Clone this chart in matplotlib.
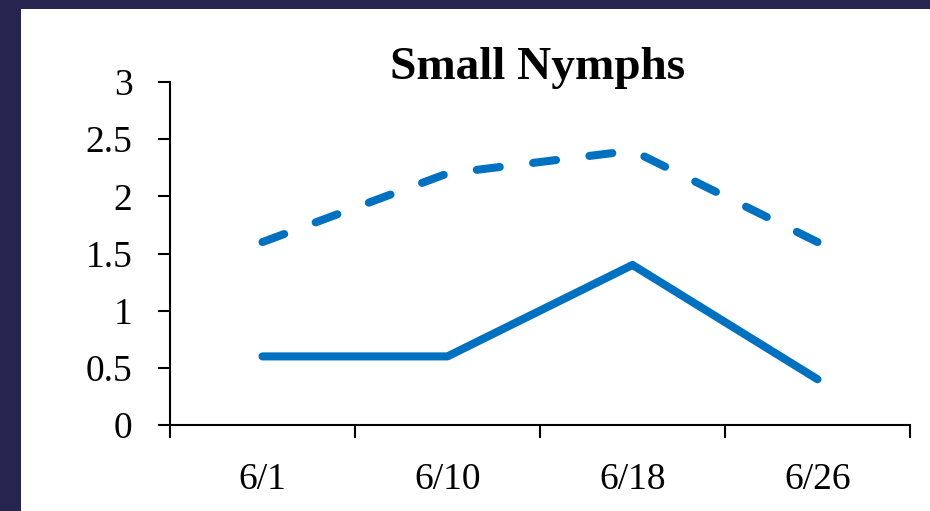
import matplotlib.pyplot as plt
from matplotlib.patches import Rectangle
from matplotlib.ticker import FixedLocator, NullFormatter

dates = ['6/1', '6/10', '6/18', '6/26']
upper = [1.6, 2.2, 2.4, 1.6]
lower = [0.6, 0.6, 1.4, 0.4]
yticks = [0, 0.5, 1, 1.5, 2, 2.5, 3]
ylabels = ['0', '0.5', '1', '1.5', '2', '2.5', '3']

navy = '#252550'
blue = '#0070C0'
plt.rcParams['font.family'] = ['Liberation Serif', 'DejaVu Serif']

fig = plt.figure(figsize=(9.3, 5.11), dpi=100, facecolor=navy)
# white panel for the chart
fig.patches.append(Rectangle((21 / 930, 0), 1, 1 - 9 / 511, transform=fig.transFigure,
                             facecolor='white', edgecolor='none', zorder=-10))

ax = fig.add_axes([170 / 930, 1 - 425 / 511, 740 / 930, 343 / 511])
ax.set_zorder(5)
ax.set_facecolor('none')

x = range(len(dates))
ax.plot(x, upper, color=blue, lw=5.8, dashes=(2.87, 4.17), dash_capstyle='round',
        dash_joinstyle='round')
ax.plot(x, lower, color=blue, lw=5.8, solid_capstyle='round', solid_joinstyle='round')

ax.set_xlim(-0.5, 3.5)
ax.set_ylim(0, 3)

# category boundary ticks, labels centred between them
ax.xaxis.set_major_locator(FixedLocator([-0.5, 0.5, 1.5, 2.5, 3.5]))
ax.xaxis.set_major_formatter(NullFormatter())
ax.xaxis.set_minor_locator(FixedLocator(list(x)))
ax.set_xticklabels(dates, minor=True)
ax.tick_params(axis='x', which='major', direction='out', length=9, width=1.5)
ax.tick_params(axis='x', which='minor', length=0, pad=27, labelsize=27)

ax.set_yticks(yticks)
ax.set_yticklabels(ylabels)
ax.tick_params(axis='y', direction='out', length=9, width=1.5, pad=18, labelsize=27)

for side in ['top', 'right']:
    ax.spines[side].set_visible(False)
for side in ['left', 'bottom']:
    ax.spines[side].set_linewidth(1.5)

fig.text(538 / 930, 1 - 79 / 511, 'Small Nymphs', fontsize=34, fontweight='bold',
         ha='center', va='baseline')

fig.savefig('out.png', dpi=100, facecolor=navy)
